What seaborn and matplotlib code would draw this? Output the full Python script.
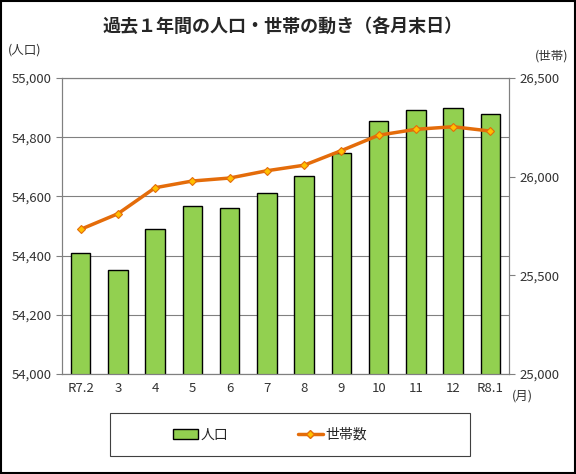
import pandas as pd
import matplotlib
matplotlib.use("Agg")
import matplotlib.pyplot as plt
import seaborn as sns
from matplotlib.ticker import FuncFormatter, MultipleLocator

# data
months = ["R7.2", "3", "4", "5", "6", "7", "8", "9", "10", "11", "12", "R8.1"]
population = [54409, 54350, 54491, 54567, 54560, 54611, 54669, 54745, 54855, 54892, 54899, 54879]
households = [25733, 25812, 25944, 25978, 25993, 26030, 26058, 26132, 26210, 26240, 26253, 26231]

df = pd.DataFrame({"month": months, "pop": population, "hh": households})

sns.set_style("white")
plt.rcParams["font.family"] = ["Noto Sans CJK JP", "DejaVu Sans"]

fig = plt.figure(figsize=(5.76, 4.74), dpi=100)
ax = fig.add_axes([62 / 576, 100 / 474, 447 / 576, 296 / 474])

sns.barplot(data=df, x="month", y="pop", color="#92D050", edgecolor="black",
            linewidth=1.0, width=0.52, saturation=1, ax=ax, zorder=2)
ax.set_ylim(54000, 55000)
ax.yaxis.set_major_locator(MultipleLocator(200))
ax.yaxis.set_major_formatter(FuncFormatter(lambda v, p: f"{int(v):,}"))
ax.grid(axis="y", color="#808080", linewidth=0.8, zorder=0)
ax.set_axisbelow(True)
ax.set_xlabel("")
ax.set_ylabel("")
ax.set_xlim(-0.5, len(months) - 0.5)
for s in ax.spines.values():
    s.set_color("#808080")
    s.set_linewidth(0.8)
ax.tick_params(axis="y", length=4, direction="out", colors="#808080",
               labelcolor="#333333", labelsize=9.5)
ax.tick_params(axis="x", length=0, labelcolor="#333333", labelsize=9.5, pad=6)
ax.set_xticks([i + 0.5 for i in range(len(months) - 1)], minor=True)
ax.tick_params(axis="x", which="minor", length=3, direction="in", colors="#808080")

ax2 = ax.twinx()
sns.lineplot(data=df, x="month", y="hh", color="#E46C0A", linewidth=2.5,
             marker="D", markersize=4.5, markerfacecolor="#FFC000",
             markeredgecolor="#E46C0A", markeredgewidth=0.8, ax=ax2, zorder=3)
ax2.set_ylim(25000, 26500)
ax2.yaxis.set_major_locator(MultipleLocator(500))
ax2.yaxis.set_major_formatter(FuncFormatter(lambda v, p: f"{int(v):,}"))
ax2.set_ylabel("")
ax2.set_xlabel("")
for s in ax2.spines.values():
    s.set_color("#808080")
    s.set_linewidth(0.8)
ax2.tick_params(axis="y", length=4, direction="out", colors="#808080",
                labelcolor="#333333", labelsize=9.5)

fig.text(283 / 576, 448 / 474, "過去１年間の人口・世帯の動き（各月末日）", ha="center",
         va="center", fontsize=13, fontweight="bold")
fig.text(8 / 576, 424 / 474, "(人口)", ha="left", va="center", fontsize=9, color="#333333")
fig.text(568 / 576, 418 / 474, "(世帯)", ha="right", va="center", fontsize=9, color="#333333")
fig.text(512 / 576, 78 / 474, "(月)", ha="left", va="center", fontsize=9, color="#333333")

# legend box
frame = plt.Rectangle((110 / 576, 18 / 474), 360 / 576, 43 / 474, transform=fig.transFigure,
                      fill=True, facecolor="white", edgecolor="#404040", linewidth=0.8)
fig.patches.append(frame)
handles = [
    plt.Rectangle((0, 0), 1, 1, facecolor="#92D050", edgecolor="black", linewidth=1.0),
    plt.Line2D([], [], color="#E46C0A", linewidth=2.5, marker="D", markersize=4.5,
               markerfacecolor="#FFC000", markeredgecolor="#E46C0A"),
]
fig.legend(handles, ["人口", "世帯数"], loc="center",
           bbox_to_anchor=(270 / 576, 39 / 474), ncol=2, frameon=False,
           fontsize=10, columnspacing=5.0, handlelength=1.8, handletextpad=0.2)

border = plt.Rectangle((0.002, 0.002), 0.996, 0.996, transform=fig.transFigure,
                       fill=False, edgecolor="black", linewidth=1.5)
fig.patches.append(border)

fig.savefig("out.png", dpi=100)
